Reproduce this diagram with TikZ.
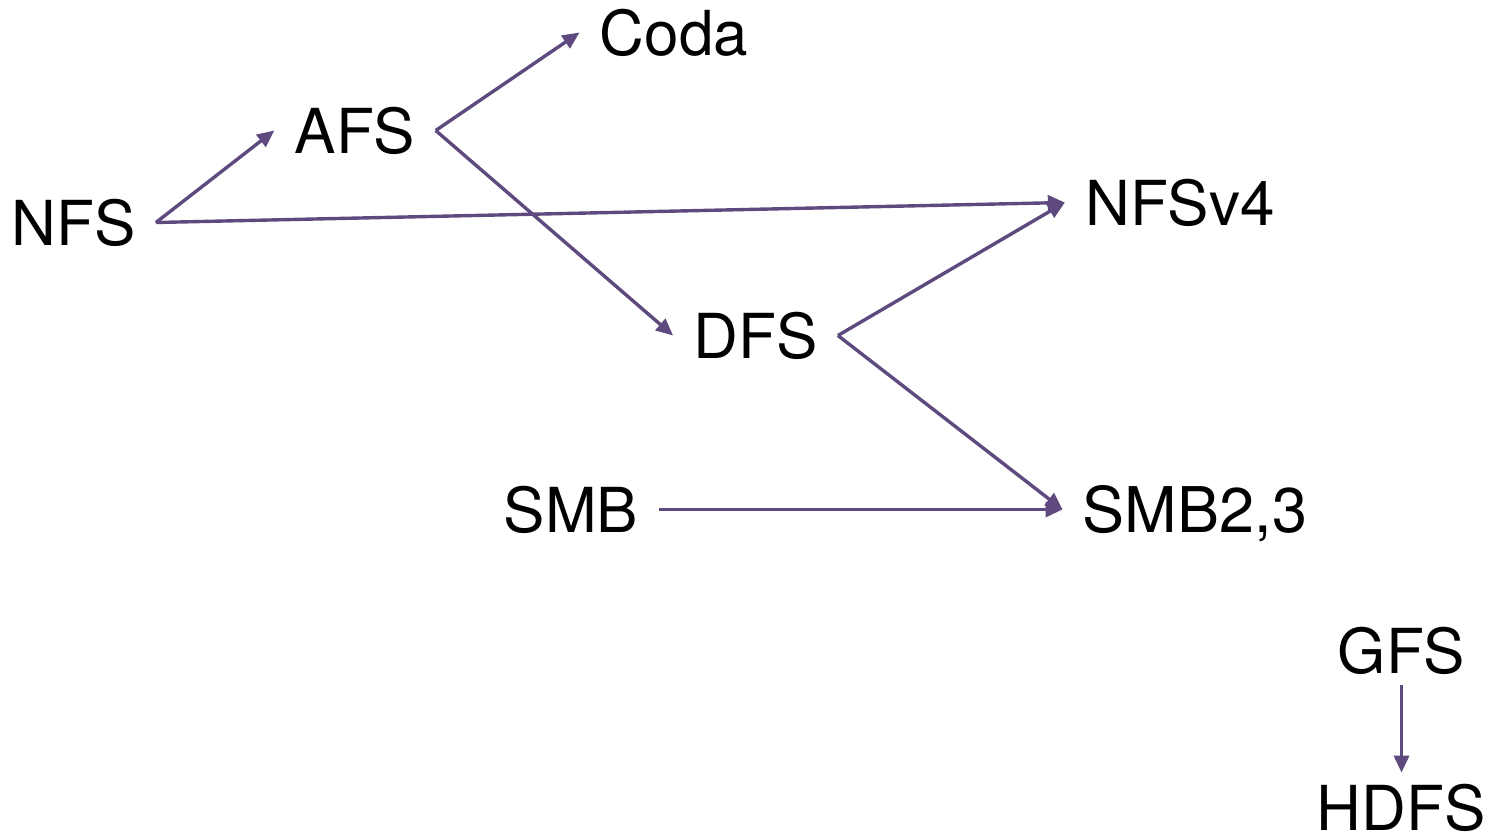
\documentclass[tikz,border=0pt]{standalone}
\usepackage{fontspec}
\setmainfont{TeX Gyre Heros}
\usetikzlibrary{arrows.meta}
\definecolor{linkpurple}{HTML}{5E4A7E}
\begin{document}
\begin{tikzpicture}[x=0.5pt,y=-0.5pt,
  fsname/.style={anchor=base,inner xsep=10pt,inner ysep=6pt,
    font=\fontsize{31}{36}\selectfont,text height=22.5pt,text depth=0pt},
  link/.style={draw=linkpurple,line width=1.7pt,
    -{Triangle[length=8.5pt,width=7.5pt]}}]
  \useasboundingbox (0,0) rectangle (1489,835);
  % file systems
  \node[fsname] (nfs)   at (73.5,245)  {NFS};
  \node[fsname] (afs)   at (355,153)   {AFS};
  \node[fsname] (coda)  at (674,55)    {Coda};
  \node[fsname] (nfs4)  at (1180,225)  {NFSv4};
  \node[fsname] (dfs)   at (755.5,358) {DFS};
  \node[fsname] (smb)   at (571,532)   {SMB};
  \node[fsname,font=\fontsize{31.5}{36}\selectfont] (smb23) at (1195,532) {SMB2,3};
  \node[fsname] (gfs)   at (1401.5,673){GFS};
  \node[fsname] (hdfs)  at (1401,830)  {HDFS};
  % lineage
  \draw[link] (nfs.east) -- (afs.west);
  \draw[link] (nfs.east) -- (nfs4.west);
  \draw[link] (afs.east) -- (coda.west);
  \draw[link] (afs.east) -- (dfs.west);
  \draw[link] (dfs.east) -- (nfs4.west);
  \draw[link] (dfs.east) -- (smb23.west);
  \draw[link] (smb.east) -- (smb23.west);
  \draw[link] (gfs.south) -- (gfs.south |- hdfs.north);
\end{tikzpicture}
\end{document}
